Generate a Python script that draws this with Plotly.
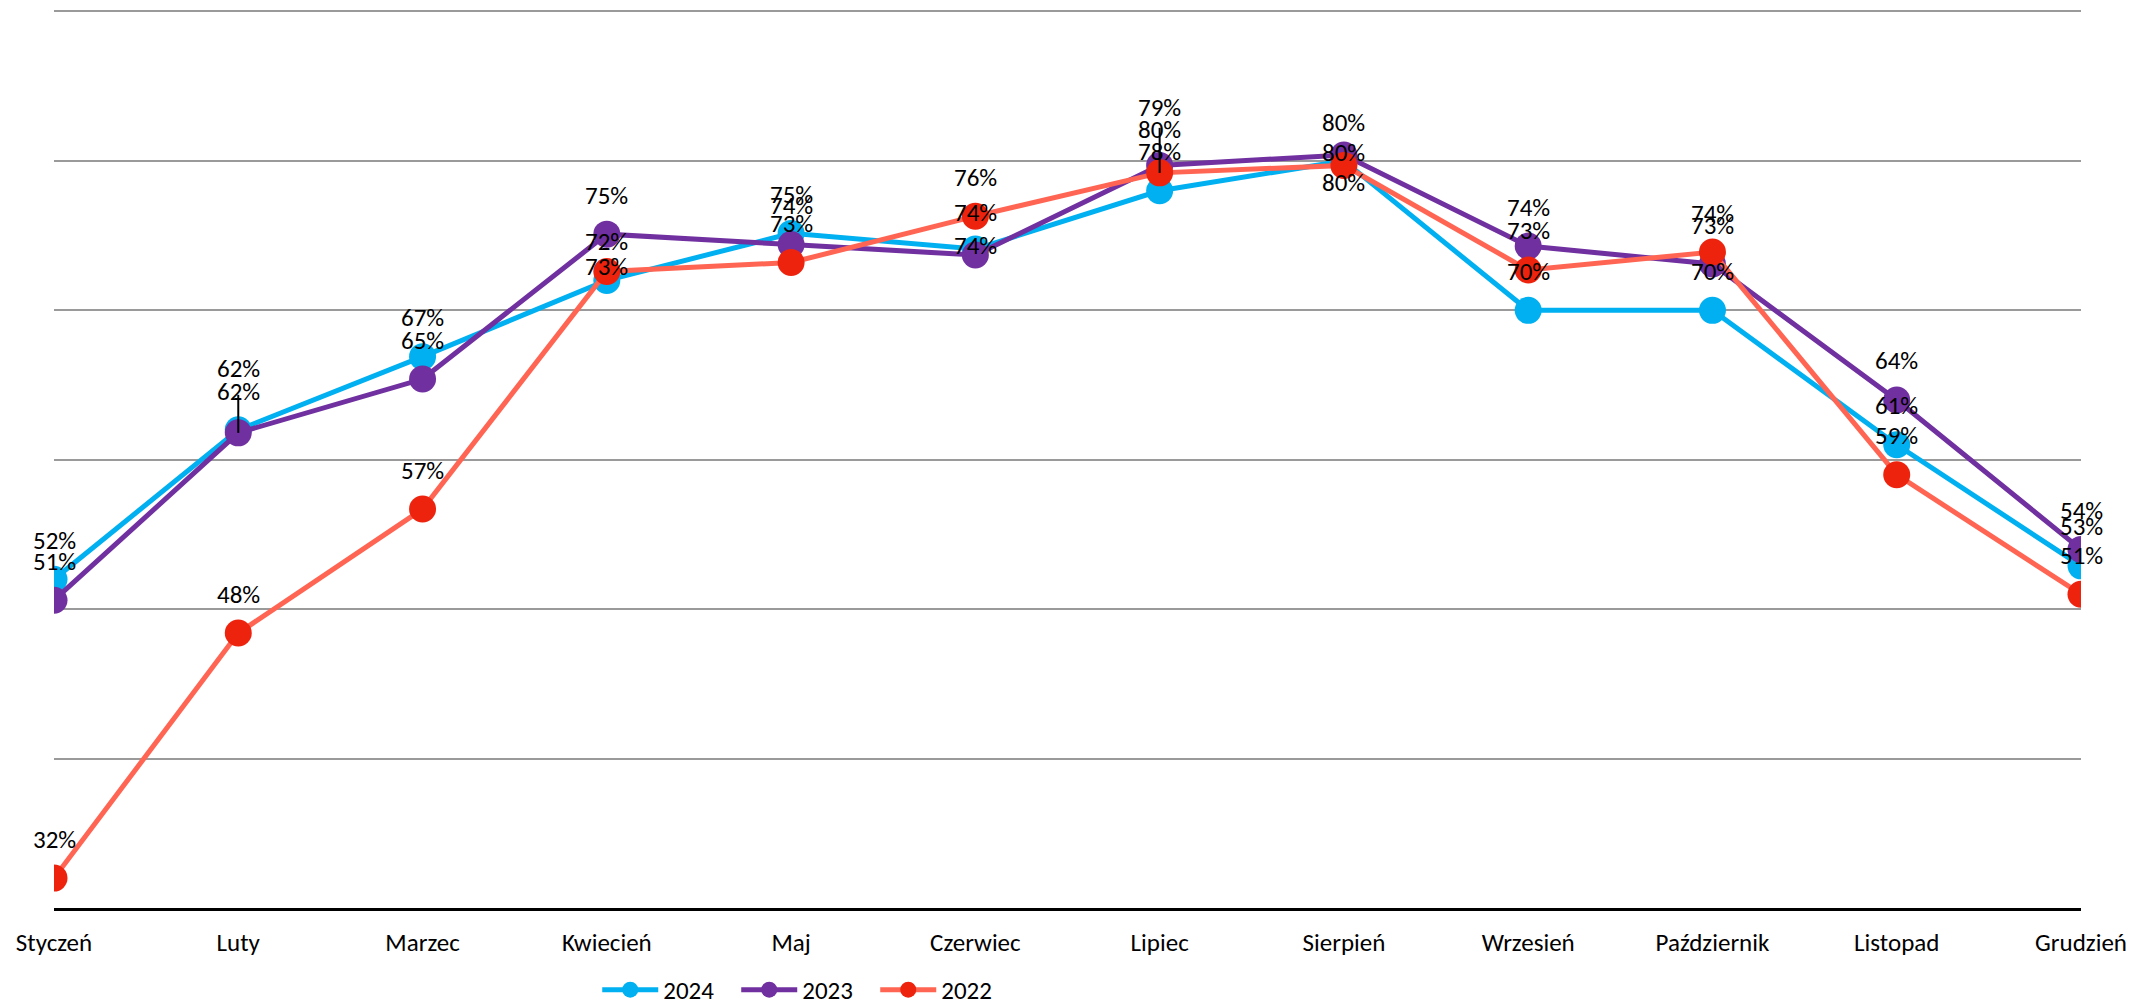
import plotly.graph_objects as go

# Monthly share (%) for three consecutive years
months = ["Styczeń", "Luty", "Marzec", "Kwiecień", "Maj", "Czerwiec",
          "Lipiec", "Sierpień", "Wrzesień", "Październik", "Listopad", "Grudzień"]
y2024 = [52.0, 62.0, 66.9, 72.0, 75.15, 74.1, 78.0, 80.0, 70.0, 70.0, 61.0, 52.9]
y2023 = [50.6, 61.8, 65.4, 75.1, 74.4, 73.7, 79.7, 80.4, 74.3, 73.1, 64.0, 54.0]
y2022 = [32.0, 48.4, 56.7, 72.6, 73.2, 76.3, 79.2, 79.7, 72.7, 73.9, 59.0, 51.0]

FONT = "Calibri, Carlito, Lato, sans-serif"
LABEL_SIZE = 25

series = [
    ("2024", y2024, "#00B0F0", "#00B0F0"),
    ("2023", y2023, "#7030A0", "#7030A0"),
    ("2022", y2022, "#FF6552", "#EE230E"),
]

# Vertical placement of value labels (px above the marker centre);
# a few labels are nudged to avoid overlaps.
DEFAULT_SHIFT = 39
label_shift = {
    ("2024", "Luty"): 61,
    ("2023", "Luty"): 41,
    ("2022", "Kwiecień"): 5,
    ("2024", "Czerwiec"): 37,
    ("2023", "Czerwiec"): 10,
    ("2022", "Lipiec"): 65,
    ("2023", "Lipiec"): 36,
    ("2023", "Sierpień"): 32,
    ("2024", "Sierpień"): 8,
    ("2022", "Sierpień"): -17,
}

# Leader lines (series, month, length in px)
leaders = [("2023", "Luty", 38), ("2022", "Lipiec", 45)]

fig = go.Figure()
for name, vals, line_col, mark_col in series:
    fig.add_trace(go.Scatter(
        x=months, y=vals, name=name, mode="lines+markers",
        line=dict(color=line_col, width=5),
        marker=dict(color=mark_col, size=27),
    ))

annotations = []
for name, vals, _, _ in series:
    for m, v in zip(months, vals):
        annotations.append(dict(
            x=m, y=v, xref="x", yref="y", text=f"{round(v)}%",
            showarrow=False, yshift=label_shift.get((name, m), DEFAULT_SHIFT),
            font=dict(family=FONT, size=LABEL_SIZE, color="black"),
        ))

data_by_name = {name: vals for name, vals, _, _ in series}
shapes = []
for name, m, length in leaders:
    i = months.index(m)
    shapes.append(dict(
        type="line", xref="x", yref="y", ysizemode="pixel",
        yanchor=data_by_name[name][i], x0=i, x1=i, y0=0, y1=length,
        line=dict(color="black", width=2), layer="above",
    ))

fig.update_layout(
    template="none",
    width=2136, height=1006,
    margin=dict(l=54, r=55, t=10, b=98, autoexpand=False),
    paper_bgcolor="white", plot_bgcolor="white",
    font=dict(family=FONT, size=LABEL_SIZE, color="black"),
    annotations=annotations, shapes=shapes,
    showlegend=True,
    legend=dict(
        orientation="h", x=0.268, xanchor="left",
        yref="container", y=0.016, yanchor="middle",
        font=dict(family=FONT, size=LABEL_SIZE, color="black"),
        itemwidth=56, entrywidth=68, traceorder="normal",
        bgcolor="rgba(0,0,0,0)",
    ),
)
fig.update_xaxes(
    type="category", range=[0, 11], showgrid=False, automargin=False,
    showline=True, linecolor="black", linewidth=3,
    ticks="", ticklabelstandoff=10,
    tickfont=dict(family=FONT, size=LABEL_SIZE, color="black"),
)
fig.update_yaxes(
    range=[30, 90.1], dtick=10, tick0=30, showticklabels=False, automargin=False,
    showgrid=True, gridcolor="#9A9A9A", gridwidth=2,
    zeroline=False, showline=False, ticks="",
)

fig.write_html("out.html")
